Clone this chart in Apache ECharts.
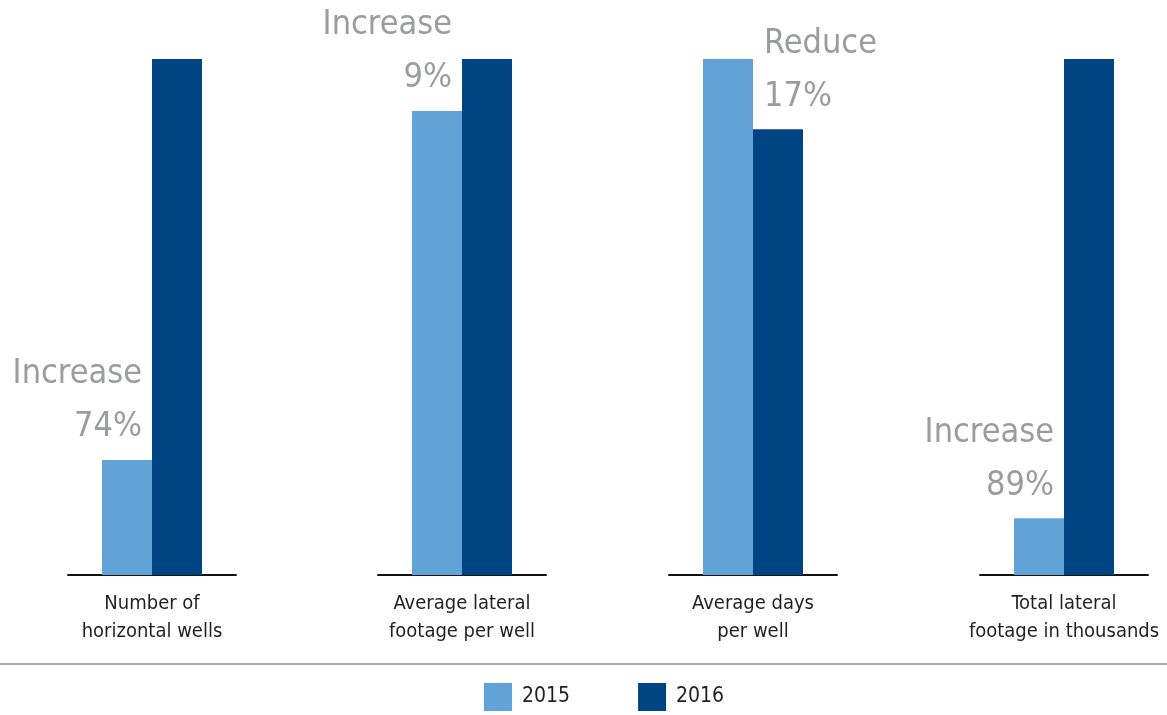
<!DOCTYPE html>
<html>
<head>
<meta charset="utf-8">
<script src="https://cdn.jsdelivr.net/npm/echarts@6/dist/echarts.min.js"></script>
<style>html,body{margin:0;padding:0;background:#fff;}#c{width:1167px;height:715px;}</style>
</head>
<body>
<div id="c"></div>
<script>
// Data (each group indexed to its larger bar = 100)
const categories = ['Number of\nhorizontal wells', 'Average lateral\nfootage per well', 'Average days\nper well', 'Total lateral\nfootage in thousands'];
const values2015 = [22.3, 89.9, 100, 11.0];
const values2016 = [100, 100, 86.4, 100];
const notes = ['Increase\n74%', 'Increase\n9%', 'Reduce\n17%', 'Increase\n89%'];
const noteOn = ['2015', '2015', '2016', '2015'];
const years = ['2015', '2016'];

const FONT = '"DejaVu Sans Condensed", "Liberation Sans Narrow", sans-serif';
const colors = { '2015': '#62a3d7', '2016': '#004483' };
const gridLeft = [68, 378, 669, 980];

const grids = [], xAxes = [], yAxes = [], series = [];
categories.forEach((cat, i) => {
  grids.push({ left: gridLeft[i], width: 168, top: 59, bottom: 140, containLabel: false, outerBoundsMode: 'none' });
  xAxes.push({
    type: 'category', gridIndex: i, data: [cat],
    axisLine: { lineStyle: { color: '#111', width: 2 } },
    axisTick: { show: false },
    axisLabel: { color: '#231f20', fontFamily: FONT, fontSize: 20, lineHeight: 28, margin: 15 }
  });
  yAxes.push({ type: 'value', gridIndex: i, min: 0, max: 100, show: false, splitLine: { show: false } });
  years.forEach((yr) => {
    const v = yr === '2015' ? values2015[i] : values2016[i];
    const hasNote = noteOn[i] === yr;
    const rightAlign = yr === '2015';
    series.push({
      name: yr, type: 'bar', xAxisIndex: i, yAxisIndex: i,
      barWidth: 50, barGap: '0%',
      itemStyle: { color: colors[yr] },
      silent: true,
      data: [{
        value: v,
        label: hasNote ? {
          show: true, formatter: notes[i],
          position: rightAlign ? [40, -6] : [11, -6],
          align: rightAlign ? 'right' : 'left',
          verticalAlign: 'bottom',
          color: '#9b9c9e', fontFamily: FONT, fontSize: 34, lineHeight: 53
        } : { show: false }
      }]
    });
  });
});

const chart = echarts.init(document.getElementById('c'));
chart.setOption({
  animation: false,
  backgroundColor: '#fff',
  grid: grids, xAxis: xAxes, yAxis: yAxes, series: series,
  legend: {
    data: years, left: 479, top: 678, icon: 'rect',
    itemWidth: 28, itemHeight: 28, itemGap: 68,
    textStyle: { color: '#231f20', fontFamily: FONT, fontSize: 21, padding: [0, 0, 0, 5] }
  },
  graphic: [{
    type: 'line', shape: { x1: 0, y1: 664, x2: 1167, y2: 664 },
    style: { stroke: '#aaaaaa', lineWidth: 2 }, silent: true
  }]
});
</script>
</body>
</html>
